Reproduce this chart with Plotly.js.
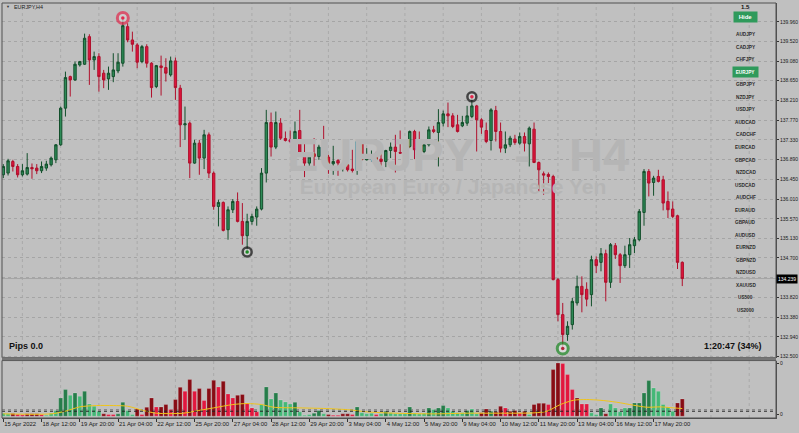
<!DOCTYPE html>
<html><head><meta charset="utf-8">
<script src="https://cdn.plot.ly/plotly-3.0.1.min.js"></script>
<style>html,body{margin:0;padding:0;background:#c0c0c0;overflow:hidden}#chart{width:799px;height:433px}</style>
</head><body><div id="chart"></div>
<script>
// ---------------- DATA ----------------
const opens=[136.553,136.591,136.849,136.738,136.553,136.568,136.715,136.702,136.642,136.702,
136.775,136.887,137.221,138.038,138.742,138.668,139.002,139.018,139.633,139.114,
139.188,138.818,138.691,138.742,138.869,139.040,139.856,139.559,139.448,139.076,
139.410,139.040,138.519,138.980,138.943,138.780,139.092,138.484,137.666,137.704,
136.813,137.258,136.925,137.444,136.590,135.847,135.936,135.328,135.773,135.958,
135.513,135.194,135.513,135.610,135.788,136.590,137.718,137.170,137.704,137.362,
137.332,137.295,137.540,137.020,136.813,137.020,136.960,137.170,136.947,136.798,
136.871,136.700,136.775,136.680,136.649,137.295,136.887,136.902,136.998,136.902,
136.849,137.094,137.170,137.050,137.036,137.184,137.518,137.110,137.072,137.221,
137.555,137.496,137.704,137.911,137.867,137.666,137.644,137.704,137.851,138.089,
137.778,137.540,137.317,137.985,137.518,137.147,137.221,137.348,137.258,137.407,
137.243,137.570,136.827,136.575,136.560,136.515,134.215,133.435,132.990,133.212,
133.695,134.065,134.000,133.880,134.660,134.600,134.794,134.155,134.972,134.771,
134.526,134.771,134.972,135.105,135.713,136.627,136.381,136.515,136.441,135.958,
135.789,135.640,134.600];
const highs=[136.791,136.909,136.887,136.791,136.791,137.036,136.805,136.791,136.849,136.865,
136.960,137.236,138.074,138.853,138.764,139.076,139.092,139.700,139.686,139.299,
139.263,138.891,138.965,139.263,139.263,140.050,139.931,139.744,139.486,139.448,
139.463,139.063,139.002,139.210,139.151,139.188,139.165,138.557,138.074,137.740,
137.332,137.332,137.555,137.496,136.627,135.996,135.958,135.847,136.011,136.159,
135.922,135.684,135.684,135.847,136.702,138.000,137.940,137.963,137.815,137.518,
137.540,137.740,138.000,137.317,137.036,137.370,137.221,137.644,136.998,137.199,
136.902,136.813,136.798,137.110,137.332,137.317,137.147,137.094,137.066,137.036,
137.110,137.272,137.444,137.540,137.272,137.540,137.555,137.518,137.317,137.629,
137.644,138.016,137.985,138.163,137.927,137.889,137.867,138.089,138.290,138.112,
137.815,137.718,138.038,138.089,137.718,137.518,137.422,137.444,137.496,137.496,
137.629,137.718,136.849,136.626,136.604,136.553,134.252,133.695,133.286,133.806,
134.304,134.288,134.155,134.749,134.734,134.920,134.883,135.031,135.031,134.809,
134.972,135.143,135.165,135.789,136.680,136.680,136.530,136.664,136.530,136.181,
135.958,135.662,134.622];
const lows=[136.479,136.537,136.626,136.493,136.515,136.537,136.464,136.568,136.591,136.642,
136.738,136.813,137.200,137.851,138.297,138.646,138.965,139.002,138.557,138.891,
138.408,138.484,138.446,138.617,138.818,138.965,139.508,139.299,138.929,139.040,
138.942,138.274,138.484,138.319,138.631,138.742,138.223,137.170,137.332,136.479,
136.798,136.553,136.680,136.479,135.773,135.402,135.290,135.105,135.700,135.491,
134.994,134.830,135.439,135.417,135.758,136.381,136.960,137.125,137.332,137.295,
137.258,137.036,136.960,136.501,136.753,136.738,136.887,136.753,136.575,136.553,
136.530,136.626,136.626,136.604,136.553,136.871,136.871,136.849,136.813,136.753,
136.724,136.925,136.604,137.020,136.827,137.147,136.902,136.902,137.036,137.184,
137.481,136.738,137.629,137.615,137.593,137.496,137.615,137.644,137.815,137.072,
137.466,137.258,137.094,137.295,137.050,137.036,137.170,137.221,137.221,137.072,
136.738,136.813,136.181,136.107,136.368,134.199,133.286,132.680,132.850,133.101,
133.636,133.486,133.620,133.620,134.363,134.400,133.731,134.030,134.676,134.141,
134.475,134.475,134.809,135.068,135.417,136.070,136.085,136.381,135.758,135.588,
135.588,134.452,134.071];
const closes=[136.738,136.865,136.738,136.553,136.642,136.715,136.686,136.642,136.738,136.791,
136.925,137.221,138.038,138.720,138.668,139.018,139.076,139.597,139.114,139.188,
138.742,138.668,138.818,138.891,139.063,139.878,139.559,139.463,139.063,139.410,
139.040,138.497,138.987,138.943,138.818,139.092,138.497,137.666,137.689,136.813,
137.258,136.925,137.444,136.590,135.847,135.936,135.312,135.773,135.958,135.513,
135.194,135.513,135.624,135.788,136.590,137.718,137.170,137.718,137.370,137.317,
137.295,137.518,136.998,136.813,136.947,136.960,137.170,136.947,136.798,136.849,
136.813,136.775,136.664,136.649,137.295,136.902,136.925,136.998,136.887,136.849,
137.094,137.170,137.072,137.036,137.184,137.518,137.110,137.087,137.221,137.555,
137.518,137.718,137.911,137.867,137.629,137.518,137.718,137.867,138.089,137.778,
137.615,137.295,138.000,137.518,137.147,137.221,137.370,137.272,137.407,137.258,
137.593,136.827,136.664,136.546,136.515,134.215,133.435,132.990,133.175,133.731,
134.065,133.880,133.780,134.660,134.526,134.794,134.155,134.994,134.771,134.526,
134.771,134.994,135.105,135.736,136.627,136.368,136.479,136.404,135.922,135.773,
135.624,134.600,134.239];
// lower-panel histogram (indicator units) and its colour class
const histVals=[9,7,8,6,4,7,7,7,5,3, 9,17,55,80,63,70,60,75,37,30,
15,7,5,5,7,42,17,5,22,5, 27,55,28,28,35,20,50,87,75,110,
75,83,47,83,108,88,105,67,55,63, 65,40,25,13,35,88,52,70,49,43,
37,42,13,3,5,9,17,7,5,3, 3,7,7,5,28,10,7,9,5,7,
15,10,7,7,7,28,9,7,9,25, 20,25,32,25,15,10,10,17,22,7,
10,22,15,13,30,25,15,17,10,15, 5,35,39,39,35,140,160,158,125,80,
55,37,37,10,5,25,7,37,25,13, 25,25,40,40,70,107,85,75,35,28,
15,40,52];
const histKind=['LG','LG','DR','CR','CR','DR','DR','DR','CR','LG','LG','LG','DG','DG','LG','DG','LG','DG','LG','LG',
'LG','DR','CR','CR','DG','DG','LG','LG','DR','CR','DR','DR','CR','DR','DR','CR','DR','DR','CR','DR',
'CR','DR','CR','DR','DR','CR','DR','CR','CR','DR','DR','CR','CR','CR','LG','DG','LG','DG','LG','LG',
'LG','DG','LG','LG','LG','DG','DG','LG','DR','CR','CR','DR','DR','CR','DG','LG','LG','LG','CR','LG',
'DG','LG','LG','LG','LG','DG','LG','LG','LG','DG','LG','DG','DG','LG','LG','LG','LG','DG','LG','LG',
'DR','DR','DG','DR','DR','CR','DR','DR','CR','DR','LG','DR','DR','DR','CR','DR','DR','CR','CR','CR',
'DR','CR','CR','LG','LG','DG','DR','LG','LG','LG','LG','DG','DG','DG','DG','DG','LG','LG','LG','LG',
'LG','DR','DR'];
// yellow signal line read at selected bars
const maIdx=[0,10,13,16,19.5,23,26,29.3,32,37.7,40,44,48,51,54,56.5,62,67.6,72.5,76,82,90,97,104,111,113.7,116.5,119.3,122,124.8,128.3,131.8,134.6,137.4,140.2,142];
const maVal=[7,7,15,28,32,32,30,17,9,9,15,25,35,38,35,27,25,23,19,13,9,7,9,9,10,15,35,48,50,48,42,33,27,28,25,23];
const xLabelIdx=[0,8,16,24,32,40,48,56,64,72,80,88,96,104,112,120,128,136];
const xLabels=['15 Apr 2022','18 Apr 12:00','19 Apr 20:00','21 Apr 04:00','22 Apr 12:00','25 Apr 20:00','27 Apr 04:00','28 Apr 12:00','29 Apr 20:00','3 May 04:00','4 May 12:00','5 May 20:00','9 May 04:00','10 May 12:00','11 May 20:00','13 May 04:00','16 May 12:00','17 May 20:00'];
const priceTicks=[139.96,139.52,139.08,138.65,138.21,137.77,137.33,136.89,136.45,136.01,135.57,135.13,134.70,134.26,133.82,133.38,132.94,132.50];
const priceTickText=['139.960','139.520','139.080','138.650','138.210','137.770','137.330','136.890','136.450','136.010','135.570','135.130','134.700','','133.820','133.380','132.940','132.500'];
const lastPrice=134.239;
const swingIdx=[25,51,98,117];
const swingKind=['high','low','high','low'];
const symbols=['AUDJPY','CADJPY','CHFJPY','EURJPY','GBPJPY','NZDJPY','USDJPY','AUDCAD','CADCHF','EURCAD','GBPCAD','NZDCAD','USDCAD','AUDCHF','EURAUD','GBPAUD','AUDUSD','EURNZD','GBPNZD','NZDUSD','XAUUSD','US500','US2000'];
const activeSymbol='EURJPY';

// ---------------- GEOMETRY / STYLE ----------------
const L=2,R=776,T=3,B=418.5,MAINB=358,SUBT=361;
const X0=-0.27,X1=161.6;
const YTOP=140.383,YBOT=132.477;
const VTOP=167.1,VBOT=-5.4;
const px=x=>(x-L)/(R-L), py=y=>(B-y)/(B-T);
const xAt=p=>X0+(p-L)/(R-L)*(X1-X0);
const priceAt=p=>YTOP-(p-T)/(MAINB-T)*(YTOP-YBOT);
const N=opens.length, idx=[...Array(N).keys()];
const kindColor={DG:'#267d4a',LG:'#44b877',DR:'#880c14',CR:'#e2173e'};
const FONT='Liberation Sans';

const traces=[];
// watermark (below candles)
traces.push({type:'scatter',mode:'text',x:[xAt(458),xAt(453)],y:[priceAt(159),priceAt(189)],
 text:['<b>EURJPY\u00a0\u00a0\u00a0-\u00a0\u00a0\u00a0H4</b>','<b>European Euro / Japanese Yen</b>'],
 textfont:{family:FONT,size:[47,21],color:'#b5b5b5'},hoverinfo:'skip',showlegend:false,xaxis:'x',yaxis:'y'});
traces.push({type:'candlestick',x:idx,open:opens,high:highs,low:lows,close:closes,
 increasing:{line:{color:'#124f2b',width:1},fillcolor:'#2e8b57'},
 decreasing:{line:{color:'#b0102c',width:1},fillcolor:'#dc143c'},
 whiskerwidth:0,hoverinfo:'skip',showlegend:false,xaxis:'x',yaxis:'y'});
const sy=swingIdx.map((i,k)=>swingKind[k]==='high'?highs[i]:lows[i]);
traces.push({type:'scatter',mode:'markers',x:swingIdx,y:sy,hoverinfo:'skip',showlegend:false,
 marker:{symbol:'circle',size:[11,9,9,11],color:['#d4d4d4','#d4d4d4','#d4d4d4','#e6e6e6'],
 line:{width:[3,2.5,2.5,3],color:['#e2284c','#111111','#111111','#1d8a24']}},xaxis:'x',yaxis:'y'});
traces.push({type:'scatter',mode:'markers',x:swingIdx,y:sy,hoverinfo:'skip',showlegend:false,
 marker:{symbol:'circle',size:3.5,color:['#e2284c','#1d8a24','#e2284c','#b0283a']},xaxis:'x',yaxis:'y'});
// lower panel
traces.push({type:'bar',x:idx,y:histVals,width:0.82,marker:{color:histKind.map(k=>kindColor[k]),line:{width:0.5,color:'rgba(235,235,235,0.45)'}},
 hoverinfo:'skip',showlegend:false,xaxis:'x',yaxis:'y2'});
traces.push({type:'scatter',mode:'lines',x:maIdx,y:maVal,line:{color:'#f0c419',width:1,shape:'spline',smoothing:0.8},
 hoverinfo:'skip',showlegend:false,xaxis:'x',yaxis:'y2'});

const shapes=[];
for(let g=4; g<X1; g+=8){
 shapes.push({type:'line',xref:'x',yref:'paper',x0:g,x1:g,y0:0,y1:1,layer:'below',line:{color:'#aaaaaa',width:1,dash:'dot'}});
}
shapes.push({type:'line',xref:'paper',yref:'y',x0:0,x1:1,y0:lastPrice,y1:lastPrice,layer:'below',line:{color:'#a4a4a4',width:1}});
shapes.push({type:'line',xref:'paper',yref:'y2',x0:0,x1:1,y0:20,y1:20,layer:'below',line:{color:'#8a8a8a',width:1,dash:'dot'}});
shapes.push({type:'line',xref:'paper',yref:'y2',x0:0,x1:1,y0:15,y1:15,layer:'above',line:{color:'#222',width:1,dash:'dot'}});
// panel frames and divider
shapes.push({type:'rect',xref:'paper',yref:'paper',x0:px(L),x1:px(R),y0:py(MAINB),y1:py(T),line:{color:'#505050',width:1},layer:'above'});
shapes.push({type:'rect',xref:'paper',yref:'paper',x0:px(L),x1:px(R),y0:py(B),y1:py(SUBT),line:{color:'#505050',width:1},layer:'above'});
shapes.push({type:'rect',xref:'paper',yref:'paper',x0:px(L),x1:px(R),y0:py(360.6),y1:py(357.6),fillcolor:'#767676',line:{width:0},layer:'above'});

const ann=[];
ann.push({xref:'paper',yref:'paper',x:px(4),y:py(6.5),xanchor:'left',yanchor:'middle',showarrow:false,text:'\u25BC',font:{family:FONT,size:4,color:'#333'}});
ann.push({xref:'paper',yref:'paper',x:px(11.5),y:py(6.7),xanchor:'left',yanchor:'middle',showarrow:false,text:'EURJPY,H4',font:{family:FONT,size:5.4,color:'#1a1a1a'}});
ann.push({xref:'paper',yref:'paper',x:px(7),y:py(346),xanchor:'left',yanchor:'middle',showarrow:false,text:'<b>Pips 0.0</b>',font:{family:FONT,size:9,color:'#111'}});
ann.push({xref:'paper',yref:'paper',x:px(763.5),y:py(346.5),xanchor:'right',yanchor:'middle',showarrow:false,text:'<b>1:20:47 (34%)</b>',font:{family:FONT,size:9,color:'#111'}});
ann.push({xref:'paper',yref:'paper',x:px(745.5),y:py(7.3),xanchor:'center',yanchor:'middle',showarrow:false,text:'<b>1.5</b>',font:{family:FONT,size:6,color:'#111'}});
ann.push({xref:'paper',yref:'paper',x:px(745),y:py(17.5),xanchor:'center',yanchor:'middle',showarrow:false,text:'<b>Hide</b>',width:23,height:10,bgcolor:'#2f9a5b',borderpad:0,font:{family:FONT,size:6,color:'#ffffff'}});
symbols.forEach((s,k)=>{
 const yc=34.7+k*12.55;
 const act=s===activeSymbol;
 ann.push({xref:'paper',yref:'paper',x:px(745.5),y:py(yc),xanchor:'center',yanchor:'middle',showarrow:false,text:'<b>'+s+'</b>',
  width:act?25:undefined,height:act?10:undefined,bgcolor:act?'#2f9a5b':undefined,borderpad:0,
  font:{family:FONT,size:4.7,color:act?'#ffffff':'#2a2a2a'}});
});
ann.push({xref:'paper',yref:'y',x:1,xshift:0,y:lastPrice,xanchor:'left',yanchor:'middle',showarrow:false,text:'134.239',
 bgcolor:'#000000',borderpad:1,font:{family:FONT,size:5,color:'#ffffff'}});

const layout={width:799,height:433,autosize:false,margin:{l:L,r:799-R,t:T,b:433-B,pad:0},
 paper_bgcolor:'#c0c0c0',plot_bgcolor:'#c0c0c0',showlegend:false,bargap:0,
 xaxis:{range:[X0,X1],anchor:'y2',tickvals:xLabelIdx,ticktext:xLabels,tickangle:0,ticks:'outside',ticklen:3,tickcolor:'#333',
  ticklabelposition:'outside right',tickfont:{family:FONT,size:5.9,color:'#1a1a1a'},showgrid:false,zeroline:false,
  showline:true,linecolor:'#505050',rangeslider:{visible:false},fixedrange:true,automargin:false},
 yaxis:{domain:[py(MAINB),py(T)],range:[YBOT,YTOP],side:'right',anchor:'x',tickvals:priceTicks,ticktext:priceTickText,
  ticks:'outside',ticklen:2,tickcolor:'#333',tickfont:{family:FONT,size:5,color:'#1a1a1a'},ticklabelstandoff:0,
  showgrid:true,gridcolor:'#a5a5a5',griddash:'dot',gridwidth:1,zeroline:false,showline:true,linecolor:'#505050',fixedrange:true,automargin:false},
 yaxis2:{domain:[0,py(SUBT)],range:[VBOT,VTOP],side:'right',anchor:'x',tickvals:[5,159],ticktext:['0','0'],
  ticks:'outside',ticklen:2,tickcolor:'#333',tickfont:{family:FONT,size:5,color:'#1a1a1a'},ticklabelstandoff:0,
  showgrid:false,zeroline:false,showline:true,linecolor:'#505050',fixedrange:true,automargin:false},
 shapes:shapes,annotations:ann};
Plotly.newPlot('chart',traces,layout,{staticPlot:true,displayModeBar:false});
</script></body></html>
